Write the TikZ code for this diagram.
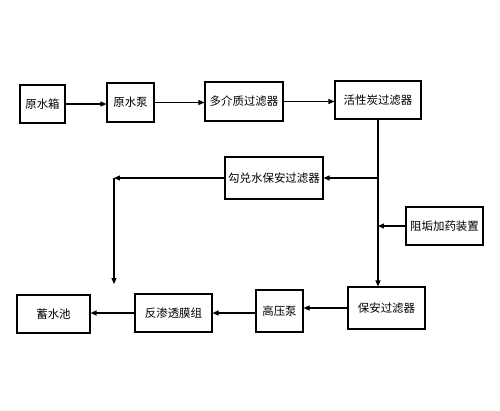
\documentclass[tikz,border=0pt]{standalone}
\usepackage{fontspec}
\setmainfont{Noto Sans CJK SC}
\usetikzlibrary{arrows.meta}
\begin{document}
\begin{tikzpicture}[x=1bp, y=-1bp, line width=1.1pt,
  box/.style={rectangle, draw, inner sep=0pt, font=\fontsize{11.5}{13}\selectfont},
  >={Triangle[length=6pt, width=5pt]}]
\useasboundingbox (0,0) rectangle (500,410);

%Yuan shui xiang
\node[box, minimum width=45bp, minimum height=38bp] (xiang) at (42.5,104) {原水箱};

%Yuan shui beng
\node[box, minimum width=47bp, minimum height=39bp] (beng) at (130.5,102.5) {原水泵};

%Duo jie zhi
\node[box, minimum width=78bp, minimum height=39bp] (duojie) at (244,101.5) {多介质过滤器};

%Huo xing tan
\node[box, minimum width=86bp, minimum height=38bp] (tan) at (378,100) {活性炭过滤器};

%Gou dui shui
\node[box, minimum width=98bp, minimum height=42bp] (goudui) at (274,178) {勾兑水保安过滤器};

%Zu gou
\node[box, minimum width=77bp, minimum height=38bp] (zugou) at (444.5,226) {阻垢加药装置};

%Bao an
\node[box, minimum width=77bp, minimum height=42bp] (baoan) at (386.5,308) {保安过滤器};

%Gao ya beng
\node[box, minimum width=47bp, minimum height=42bp] (gaoya) at (279.5,311) {高压泵};

%Fan shen tou
\node[box, minimum width=77bp, minimum height=38bp] (mozu) at (173.5,313) {反渗透膜组};

%Xu shui chi
\node[box, minimum width=73bp, minimum height=38bp] (chi) at (53.5,314) {蓄水池};

\coordinate (zuo) at (114,178);
\coordinate (zuodi) at (114,284);

%Top row
\draw[->] (xiang.east) -- (xiang.east -| beng.west);
\draw[->] (beng.east) -- (beng.east -| duojie.west);
\draw[->] (duojie.east) -- (duojie.east -| tan.west);

%Right branch
\draw[->] (tan.south) -- (tan.south |- baoan.north);
\draw[->] (tan.south |- goudui.east) -- (goudui.east);
\draw[->] (zugou.west) -- (zugou.west -| tan.south);
\draw[->] (goudui.west) -- (zuo);
\draw[->] (zuo) -- (zuodi);

%Bottom row
\draw[->] (baoan.west) -- (baoan.west -| gaoya.east);
\draw[->] (gaoya.west |- mozu.east) -- (mozu.east);
\draw[->] (mozu.west) -- (chi.east |- mozu.west);

\end{tikzpicture}
\end{document}
